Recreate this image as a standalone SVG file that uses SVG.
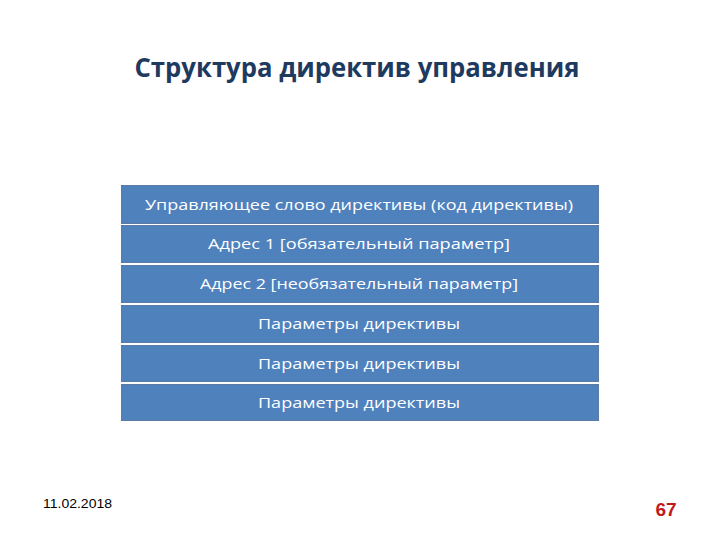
<svg xmlns="http://www.w3.org/2000/svg" width="720" height="540" viewBox="0 0 720 540">
<style>
.row rect{fill:#4F81BD;stroke:#5A7BA3;stroke-width:1}
.row text{fill:#FFFFFF;font-family:"Open Sans","Liberation Sans",sans-serif;font-size:15px;text-anchor:middle}
.title{fill:#1F3A5F;font-family:"Open Sans","Liberation Sans",sans-serif;font-weight:bold;font-size:26px;text-anchor:middle}
</style>
<rect width="720" height="540" fill="#FFFFFF"/>
<text class="title" x="357" y="77" textLength="445" lengthAdjust="spacingAndGlyphs">Структура директив управления</text>
<g id="row1" class="row"><rect x="121.5" y="185.5" width="477" height="38"/><text x="359" y="210" textLength="428" lengthAdjust="spacingAndGlyphs">Управляющее слово директивы (код директивы)</text></g>
<g id="row2" class="row"><rect x="121.5" y="225.5" width="477" height="37"/><text x="359" y="249" textLength="302" lengthAdjust="spacingAndGlyphs">Адрес 1 [обязательный параметр]</text></g>
<g id="row3" class="row"><rect x="121.5" y="265.5" width="477" height="37"/><text x="359" y="289" textLength="318" lengthAdjust="spacingAndGlyphs">Адрес 2 [необязательный параметр]</text></g>
<g id="row4" class="row"><rect x="121.5" y="305.5" width="477" height="37"/><text x="359" y="329" textLength="202" lengthAdjust="spacingAndGlyphs">Параметры директивы</text></g>
<g id="row5" class="row"><rect x="121.5" y="345.5" width="477" height="36"/><text x="359" y="369" textLength="202" lengthAdjust="spacingAndGlyphs">Параметры директивы</text></g>
<g id="row6" class="row"><rect x="121.5" y="384.5" width="477" height="36"/><text x="359" y="408" textLength="202" lengthAdjust="spacingAndGlyphs">Параметры директивы</text></g>
<text x="43" y="508" font-family="Liberation Sans, sans-serif" font-size="13" fill="#000000" textLength="69" lengthAdjust="spacingAndGlyphs">11.02.2018</text>
<text x="666" y="516" font-family="Liberation Sans, sans-serif" font-size="19" font-weight="bold" fill="#C0191E" text-anchor="middle">67</text>
</svg>
